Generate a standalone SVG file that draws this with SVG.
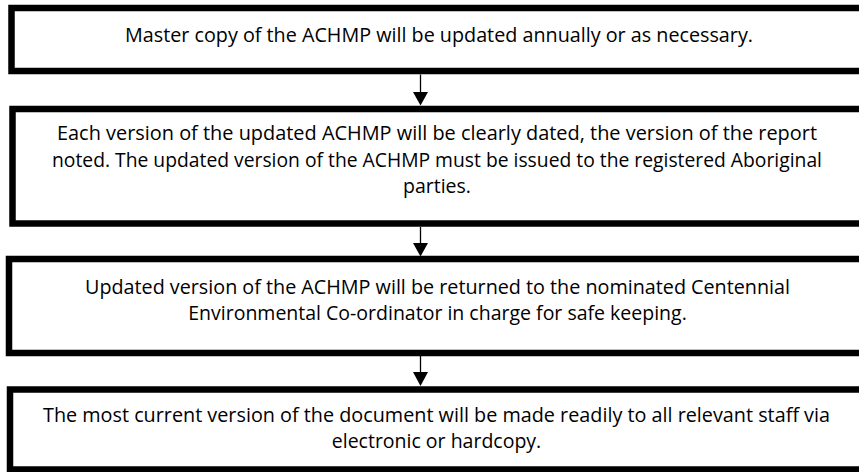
<svg xmlns="http://www.w3.org/2000/svg" width="859" height="472" viewBox="0 0 859 472">
<style>
.box{fill:#ffffff;stroke:#000000;stroke-width:6.5}
.t{font-family:"Open Sans","Noto Sans","Liberation Sans",sans-serif;font-size:19.5px;fill:#000000;text-anchor:middle}
.con{stroke:#000000;stroke-width:1.3;fill:none}
</style>
<defs>
<marker id="ah" markerUnits="userSpaceOnUse" markerWidth="16" markerHeight="14" viewBox="0 0 16 14" refX="7.5" refY="13" orient="auto-start-reverse">
<path d="M0,0 L15,0 L7.5,13 Z" fill="#000000" transform="rotate(-90 7.5 7.5)"/>
</marker>
</defs>
<rect width="859" height="472" fill="#ffffff"/>
<g id="node1">
<rect class="box" x="11.5" y="8" width="860" height="63"/>
<text class="t" x="439" y="42" textLength="628" lengthAdjust="spacingAndGlyphs">Master copy of the ACHMP will be updated annually or as necessary.</text>
</g>
<g id="node2">
<rect class="box" x="12.5" y="109" width="860" height="114.5"/>
<text class="t" x="437" y="140" textLength="760" lengthAdjust="spacingAndGlyphs">Each version of the updated ACHMP will be clearly dated, the version of the report</text>
<text class="t" x="437" y="166.5" textLength="770" lengthAdjust="spacingAndGlyphs">noted. The updated version of the ACHMP must be issued to the registered Aboriginal</text>
<text class="t" x="437" y="193">parties.</text>
</g>
<g id="node3">
<rect class="box" x="9" y="259" width="860" height="94"/>
<text class="t" x="437.5" y="294" textLength="705" lengthAdjust="spacingAndGlyphs">Updated version of the ACHMP will be returned to the nominated Centennial</text>
<text class="t" x="437.5" y="320">Environmental Co-ordinator in charge for safe keeping.</text>
</g>
<g id="node4">
<rect class="box" x="10" y="389.5" width="860" height="80"/>
<text class="t" x="436.5" y="422" textLength="787" lengthAdjust="spacingAndGlyphs">The most current version of the document will be made readily to all relevant staff via</text>
<text class="t" x="436.5" y="448">electronic or hardcopy.</text>
</g>
<g id="connectors">
<line class="con" x1="420.5" y1="74.5" x2="420.5" y2="93"/>
<path d="M413,92 L428,92 L420.5,105.5 Z" fill="#000000"/>
<line class="con" x1="420.5" y1="227" x2="420.5" y2="244"/>
<path d="M413,243 L428,243 L420.5,256.5 Z" fill="#000000"/>
<line class="con" x1="420.5" y1="356" x2="420.5" y2="373"/>
<path d="M413,372 L428,372 L420.5,386 Z" fill="#000000"/>
</g>
</svg>
